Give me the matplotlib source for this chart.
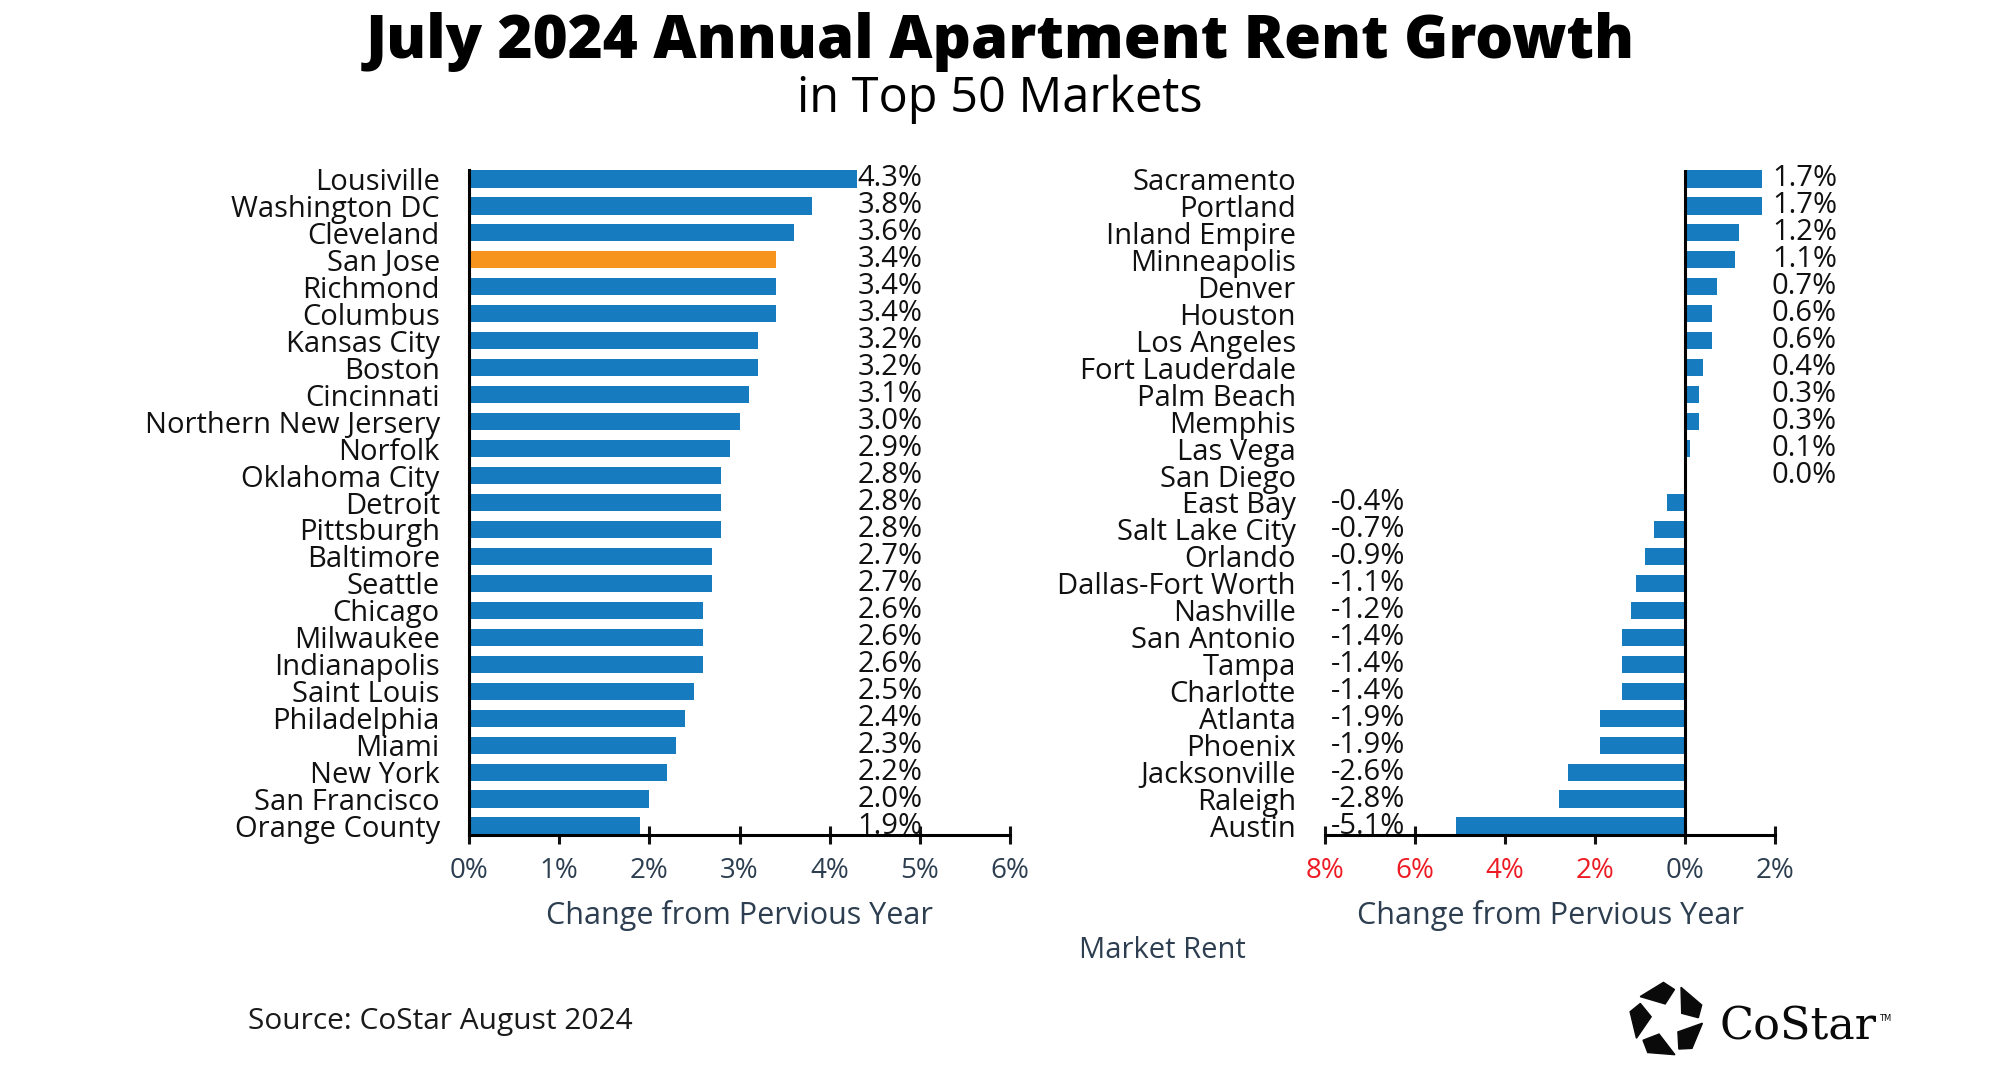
import matplotlib
matplotlib.use("Agg")
import matplotlib.pyplot as plt
import numpy as np
from matplotlib.patches import Polygon

# --------------------------------------------------------------------------- #
# data
# --------------------------------------------------------------------------- #
top_markets = ["Lousiville", "Washington DC", "Cleveland", "San Jose", "Richmond",
               "Columbus", "Kansas City", "Boston", "Cincinnati", "Northern New Jersery",
               "Norfolk", "Oklahoma City", "Detroit", "Pittsburgh", "Baltimore",
               "Seattle", "Chicago", "Milwaukee", "Indianapolis", "Saint Louis",
               "Philadelphia", "Miami", "New York", "San Francisco", "Orange County"]
top_growth = [4.3, 3.8, 3.6, 3.4, 3.4, 3.4, 3.2, 3.2, 3.1, 3.0, 2.9, 2.8, 2.8, 2.8, 2.7,
              2.7, 2.6, 2.6, 2.6, 2.5, 2.4, 2.3, 2.2, 2.0, 1.9]

bottom_markets = ["Sacramento", "Portland", "Inland Empire", "Minneapolis", "Denver",
                  "Houston", "Los Angeles", "Fort Lauderdale", "Palm Beach", "Memphis",
                  "Las Vega", "San Diego", "East Bay", "Salt Lake City", "Orlando",
                  "Dallas-Fort Worth", "Nashville", "San Antonio", "Tampa", "Charlotte",
                  "Atlanta", "Phoenix", "Jacksonville", "Raleigh", "Austin"]
bottom_growth = [1.7, 1.7, 1.2, 1.1, 0.7, 0.6, 0.6, 0.4, 0.3, 0.3, 0.1, 0.0, -0.4, -0.7,
                 -0.9, -1.1, -1.2, -1.4, -1.4, -1.4, -1.9, -1.9, -2.6, -2.8, -5.1]

highlight = "San Jose"

left_ticks = [0, 1, 2, 3, 4, 5, 6]
right_ticks = [-8, -6, -4, -2, 0, 2]

BLUE = "#167bbf"
ORANGE = "#f7941d"
SLATE = "#2c3e50"
RED = "#ed1c24"
INK = "#111111"

FONT = "Open Sans"
plt.rcParams["font.family"] = [FONT, "DejaVu Sans"]
LABEL_SIZE = 21

fig = plt.figure(figsize=(20, 10.83), dpi=100)
W, H = 2000, 1083


def rect(x0, x1, y0, y1):
    # pixel box -> figure fraction
    return [x0 / W, 1 - y1 / H, (x1 - x0) / W, (y1 - y0) / H]


def style_axis(ax, labels, ticks):
    ax.set_ylim(len(labels) - 1 + 0.325, -0.325)
    ax.set_yticks(range(len(labels)))
    ax.set_yticklabels(labels, fontsize=LABEL_SIZE, color=INK)
    ax.tick_params(axis="y", length=0, pad=21)
    ax.set_xticks(ticks)
    ax.tick_params(axis="x", direction="inout", length=13, width=2.2, pad=9,
                   labelsize=20, color=INK)
    for side in ("top", "right"):
        ax.spines[side].set_visible(False)
    ax.spines["bottom"].set_linewidth(2.2)
    ax.spines["left"].set_linewidth(2.2)
    ax.set_xlabel("Change from Pervious Year", fontsize=22, color=SLATE, labelpad=11)


# --------------------------------------------------------------------------- #
# left panel: top 25
# --------------------------------------------------------------------------- #
ax1 = fig.add_axes(rect(469, 1010, 170, 835))
ys = np.arange(len(top_markets))
colors = [ORANGE if m == highlight else BLUE for m in top_markets]
ax1.barh(ys, top_growth, height=0.65, color=colors, zorder=2)
ax1.set_xlim(0, 6)
style_axis(ax1, top_markets, left_ticks)
ax1.set_xticklabels([f"{t}%" for t in left_ticks])
for lab in ax1.get_xticklabels():
    lab.set_color(SLATE)
for y, v in zip(ys, top_growth):
    ax1.text(4.31, y, f"{v:.1f}%", ha="left", va="center", fontsize=LABEL_SIZE,
             color=INK)

# --------------------------------------------------------------------------- #
# right panel: bottom 25
# --------------------------------------------------------------------------- #
ax2 = fig.add_axes(rect(1325, 1775, 170, 835))
ys = np.arange(len(bottom_markets))
ax2.barh(ys, bottom_growth, height=0.65, color=BLUE, zorder=2)
ax2.set_xlim(-8, 2)
style_axis(ax2, bottom_markets, right_ticks)
ax2.set_xticklabels([f"{abs(t)}%" for t in right_ticks])
for lab, t in zip(ax2.get_xticklabels(), right_ticks):
    lab.set_color(RED if t < 0 else SLATE)
ax2.spines["left"].set_visible(False)
ax2.axvline(0, color="black", lw=2.2, zorder=3)
for y, v in zip(ys, bottom_growth):
    if v >= 0:
        ax2.text(1.93, y, f"{v:.1f}%", ha="left", va="center", fontsize=LABEL_SIZE,
                 color=INK, clip_on=False)
    else:
        ax2.text(-6.22, y, f"{v:.1f}%", ha="right", va="center", fontsize=LABEL_SIZE,
                 color=INK)

# --------------------------------------------------------------------------- #
# titles, notes, logo
# --------------------------------------------------------------------------- #
fig.text(0.5, 1 - 58 / H, "July 2024 Annual Apartment Rent Growth", ha="center",
         va="baseline", fontsize=43, fontweight="heavy", color="black")
fig.text(0.5, 1 - 112 / H, "in Top 50 Markets", ha="center", va="baseline",
         fontsize=35, color="black")
fig.text(1162 / W, 1 - 951 / H, "Market Rent", ha="center", va="center",
         fontsize=21, color=SLATE)
fig.text(248 / W, 1 - 1021 / H, "Source: CoStar August 2024", ha="left", va="center",
         fontsize=21.5, color="#1a1a1a")

deco = fig.add_axes([0, 0, 1, 1], zorder=-1)
deco.set_xlim(0, W)
deco.set_ylim(H, 0)
deco.axis("off")
cx, cy = 1667, 1020
piece = np.array([[14, -32.7], [34.7, -15], [31.3, -2.3], [14.7, -6.7]])
for k in range(5):
    a = np.deg2rad(72 * k)
    rot = np.array([[np.cos(a), -np.sin(a)], [np.sin(a), np.cos(a)]])
    pts = piece @ rot.T + [cx, cy]
    deco.add_patch(Polygon(pts, closed=True, color="#0a0a0a"))
deco.text(1720, 1039, "CoStar", family="DejaVu Serif", fontsize=32, color="#0a0a0a",
          ha="left", va="baseline")
deco.text(1879, 1021, "TM", family="DejaVu Sans", fontsize=6, color="#0a0a0a",
          ha="left", va="baseline")

fig.savefig("out.png", dpi=100)
